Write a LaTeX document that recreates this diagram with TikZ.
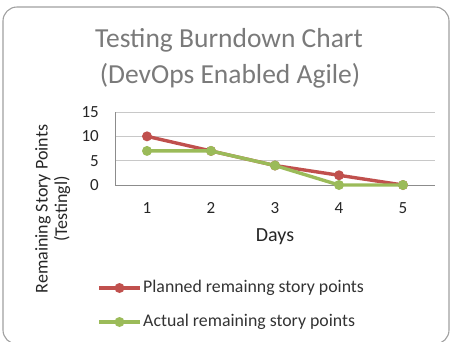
\documentclass[tikz,border=0pt]{standalone}
\usepackage{fontspec}
\setmainfont{Carlito}
\definecolor{planred}{HTML}{C0504D}
\definecolor{actgreen}{HTML}{9BBB59}
\definecolor{gridgray}{HTML}{C8C8C8}
\definecolor{axisgray}{HTML}{8C8C8C}
\definecolor{titlegray}{HTML}{7A7A7A}
\definecolor{framegray}{HTML}{A0A0A0}
\begin{document}
\begin{tikzpicture}[x=1pt,y=-1pt,
  series/.style={line width=3.4pt,line join=round},
  dot/.style={circle,inner sep=0pt,minimum size=10pt},
  tick/.style={font=\fontsize{17}{17}\selectfont,text=black!85},
  gridline/.style={gridgray,line width=1pt},
  axislabel/.style={rotate=90,font=\fontsize{18}{18}\selectfont,text=black!85},
  legendtext/.style={anchor=west,font=\fontsize{17.8}{17.8}\selectfont,text=black!80,inner sep=0pt}]
\useasboundingbox (0,0) rectangle (450,341);
\begin{scope}
\clip (0,0) rectangle (450,341);
\draw[framegray,line width=1.1pt,rounded corners=14pt] (3,7) rectangle (449,344);
\end{scope}

% title
\node[text=titlegray,font=\fontsize{27.5}{27.5}\selectfont] (t1) at (229,40) {Testing Burndown Chart};
\node[text=titlegray,font=\fontsize{27.5}{27.5}\selectfont] (t2) at (230,76) {(DevOps Enabled Agile)};

% plot frame and grid: 0..15 maps to y 185..112
\foreach \v in {5,10,15} \draw[gridline] (115,{185-4.867*\v}) -- (435,{185-4.867*\v});
\draw[axisgray,line width=1pt] (115,112) -- (115,185) -- (435,185);

% y tick labels
\foreach \v in {0,5,10,15}
  \node[tick,anchor=east,inner sep=0pt] (y\v) at (99,{185-4.867*\v}) {\v};
% x tick labels
\foreach \i/\x in {1/147,2/211,3/275,4/339,5/403}
  \node[tick] (x\i) at (\x,208) {\i};

\node[font=\fontsize{20}{20}\selectfont,text=black!85] (days) at (275,237) {Days};
\node[axislabel] (yl1) at (43,209) {Remaining Story Points};
\node[axislabel] (yl2) at (62,209) {(Testingl)};

% data points
\foreach \i/\x/\p/\a in {1/147/10/7,2/211/7/7,3/275/4/4,4/339/2/0,5/403/0/0}{
  \coordinate (p\i) at (\x,{185-4.867*\p});
  \coordinate (a\i) at (\x,{185-4.867*\a});
}
\draw[series,planred] (p1) -- (p2) -- (p3) -- (p4) -- (p5);
\foreach \i in {1,...,5} \node[dot,fill=planred] (pm\i) at (p\i) {};
\draw[series,actgreen] (a1) -- (a2) -- (a3) -- (a4) -- (a5);
\foreach \i in {1,...,5} \node[dot,fill=actgreen] (am\i) at (a\i) {};

% legend
\coordinate (lr0) at (99,288); \coordinate (lr1) at (140,288);
\coordinate (lg0) at (99,322); \coordinate (lg1) at (140,322);
\draw[series,planred] (lr0) -- (lr1);
\node[dot,fill=planred] (lrm) at (119.5,288) {};
\draw[series,actgreen] (lg0) -- (lg1);
\node[dot,fill=actgreen] (lgm) at (119.5,322) {};
\node[legendtext] (lt1) at (143,288) {Planned remainng story points};
\node[legendtext] (lt2) at (143,322) {Actual remaining story points};
\end{tikzpicture}
\end{document}
